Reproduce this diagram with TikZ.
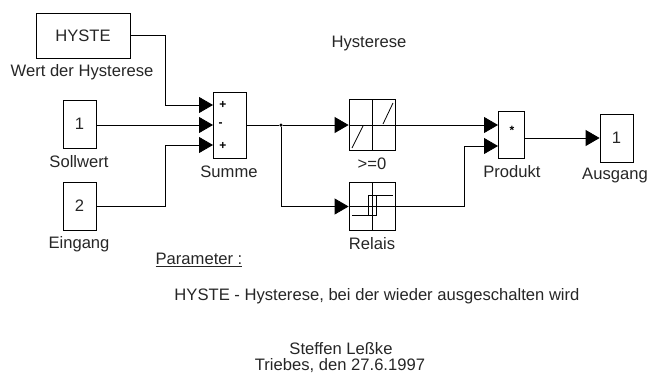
\documentclass[tikz,border=0pt]{standalone}
\usepackage{fontspec}
\setmainfont{Liberation Sans}
\usetikzlibrary{arrows.meta}
\begin{document}
\begin{tikzpicture}[x=1pt,y=-1pt,line width=0.8pt,font=\fontsize{16.6}{20}\selectfont]
  \tikzstyle{block}=[draw,inner sep=0pt,text=black!85]
  \tikzstyle{port}=[draw,inner sep=0pt,minimum width=33pt,minimum height=48pt,text=black!85]
  \tikzstyle{icon}=[draw,inner sep=0pt,minimum width=46pt]
  \tikzstyle{label}=[inner sep=0pt,text=black!85]
  \tikzstyle{sign}=[inner sep=0pt,font=\fontsize{12}{12}\selectfont\bfseries]
  \tikzstyle{signal}=[-{Triangle[length=14pt,width=16pt]}]
  \useasboundingbox (0,0) rectangle (649,373);
  % blocks
  \node[block,minimum width=94pt,minimum height=45pt] (hyste) at (83,35.5) {HYSTE};
  \node[port] (sollwert) at (79.5,124) {1};
  \node[port] (eingang) at (79.5,206) {2};
  \node[block,minimum width=33pt,minimum height=66pt] (summe) at (229.5,125) {};
  \node[icon,minimum height=51pt] (ge0) at (372,125) {};
  \node[icon,minimum height=48pt] (relais) at (372,206.5) {};
  \node[block,minimum width=26pt,minimum height=47pt] (produkt) at (511,134.5) {};
  \node[port] (ausgang) at (616.5,138) {1};
  % block names
  \node[label] (wert) at (82,72) {Wert der Hysterese};
  \node[label] (sollname) at (79,162) {Sollwert};
  \node[label] (eingname) at (79,244) {Eingang};
  \node[label] (sumname) at (229,172) {Summe};
  \node[label] (ge0name) at (372,164) {>=0};
  \node[label] (relname) at (372,244) {Relais};
  \node[label] (prodname) at (512,172) {Produkt};
  \node[label] (ausname) at (615,176) {Ausgang};
  % signs
  \node[sign] (plusa) at (223,105) {+};
  \node[sign] (minus) at (220.5,125) {-};
  \node[sign] (plusb) at (223,146) {+};
  \node[sign] (mal) at (512,130) {*};
  % ports and bends
  \coordinate (sumina) at (213,105);
  \coordinate (suminb) at (213,125);
  \coordinate (suminc) at (213,145);
  \coordinate (prodina) at (498,125);
  \coordinate (prodinb) at (498,146);
  \coordinate (bendhyste) at (165,35.5);
  \coordinate (bendeing) at (165,206);
  \coordinate (bendrel) at (464,206.5);
  \node[fill,circle,inner sep=0pt,minimum size=3.5pt] (abzweig) at (281,125) {};
  % connectors
  \draw[signal] (hyste.east) -- (bendhyste) |- (sumina);
  \draw[signal] (sollwert.east |- suminb) -- (suminb);
  \draw[signal] (eingang.east) -- (bendeing) |- (suminc);
  \draw (summe.east) -- (abzweig);
  \draw[signal] (abzweig) -- (ge0.west);
  \draw[signal] (abzweig) |- (relais.west);
  \draw[signal] (ge0.east) -- (prodina);
  \draw[signal] (relais.east) -- (bendrel) |- (prodinb);
  \draw[signal] (produkt.east |- ausgang.west) -- (ausgang.west);
  % block pictures
  \draw (ge0.north) -- (ge0.south) (ge0.west) -- (ge0.east);
  \draw (352,148) -- (363,126) (383,124) -- (393,103);
  \draw (relais.north) -- (relais.south) (relais.west) -- (relais.east);
  \draw (352,215) -- (376,215) -- (376,195) -- (368,195) -- (368,215);
  \draw (368,195) -- (393,195);
  % texts
  \node[label] (titel) at (369,44) {Hysterese};
  \node[label] (param) at (199,260) {\underline{Parameter :}};
  \node[label] (hystetext) at (377,296) {HYSTE - Hysterese, bei der wieder ausgeschalten wird};
  \node[label] (autor) at (341,349) {Steffen Leßke};
  \node[label] (datum) at (340,366) {Triebes, den 27.6.1997};
\end{tikzpicture}
\end{document}
